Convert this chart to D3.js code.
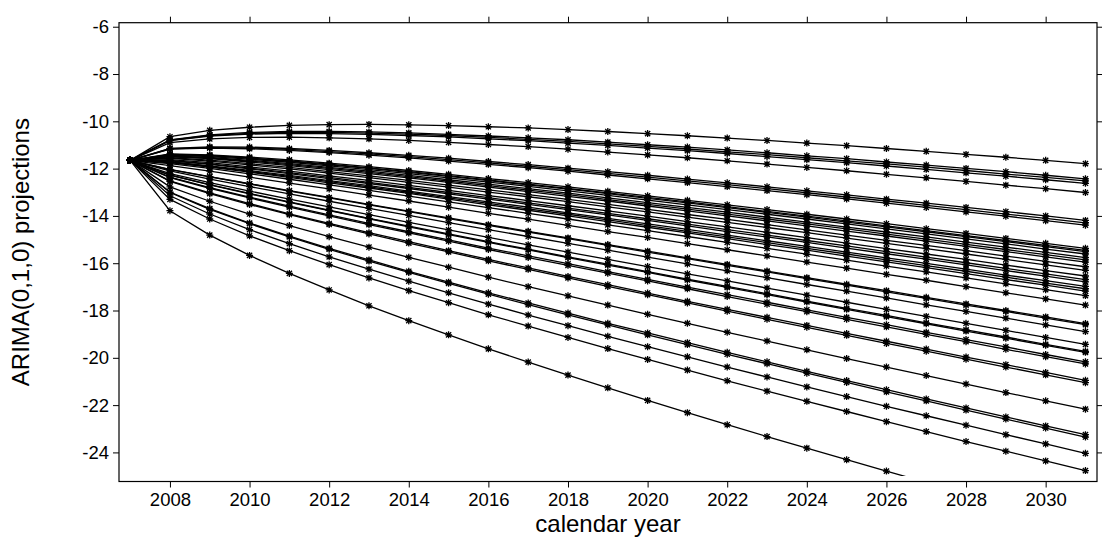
<!DOCTYPE html>
<html><head><meta charset="utf-8">
<script src="https://cdn.jsdelivr.net/npm/d3@7"></script>
<style>
body{margin:0;background:#fff}
svg text{font-family:"Liberation Sans",Arial,sans-serif;fill:#000}
</style>
</head><body><svg id="chart" width="1102" height="539"></svg>
<script>
const years = [2007,2008,2009,2010,2011,2012,2013,2014,2015,2016,2017,2018,2019,2020,2021,2022,2023,2024,2025,2026,2027,2028,2029,2030,2031];
const xTicks = [2008,2010,2012,2014,2016,2018,2020,2022,2024,2026,2028,2030];
const yTicks = [-6,-8,-10,-12,-14,-16,-18,-20,-22,-24];
const xLabel = "calendar year";
const yLabel = "ARIMA(0,1,0) projections";

const p01 = [-11.65,-10.65,-10.38,-10.25,-10.17,-10.14,-10.13,-10.15,-10.18,-10.23,-10.28,-10.35,-10.43,-10.52,-10.61,-10.71,-10.81,-10.92,-11.03,-11.15,-11.27,-11.40,-11.52,-11.65,-11.79];
const p02 = [-11.65,-10.78,-10.57,-10.47,-10.43,-10.43,-10.45,-10.49,-10.55,-10.62,-10.70,-10.78,-10.88,-10.99,-11.09,-11.21,-11.33,-11.46,-11.58,-11.72,-11.85,-11.99,-12.13,-12.28,-12.43];
const p03 = [-11.65,-10.80,-10.60,-10.51,-10.47,-10.47,-10.50,-10.54,-10.60,-10.68,-10.76,-10.85,-10.95,-11.06,-11.17,-11.29,-11.41,-11.54,-11.67,-11.80,-11.94,-12.08,-12.23,-12.37,-12.52];
const p04 = [-11.65,-10.82,-10.62,-10.54,-10.51,-10.52,-10.55,-10.60,-10.66,-10.74,-10.82,-10.92,-11.02,-11.13,-11.24,-11.36,-11.49,-11.62,-11.75,-11.89,-12.03,-12.18,-12.32,-12.47,-12.62];
const p05 = [-11.65,-10.90,-10.74,-10.68,-10.67,-10.70,-10.74,-10.81,-10.89,-10.98,-11.07,-11.18,-11.30,-11.42,-11.54,-11.67,-11.81,-11.95,-12.09,-12.24,-12.39,-12.54,-12.70,-12.85,-13.01];
const p06 = [-11.65,-11.14,-11.08,-11.09,-11.15,-11.23,-11.33,-11.44,-11.56,-11.70,-11.83,-11.98,-12.13,-12.28,-12.44,-12.60,-12.77,-12.94,-13.11,-13.29,-13.46,-13.64,-13.82,-14.00,-14.19];
const p07 = [-11.65,-11.16,-11.11,-11.13,-11.19,-11.28,-11.38,-11.49,-11.62,-11.76,-11.90,-12.04,-12.20,-12.36,-12.52,-12.68,-12.85,-13.02,-13.20,-13.37,-13.55,-13.73,-13.92,-14.10,-14.29];
const p08 = [-11.65,-11.18,-11.13,-11.16,-11.23,-11.32,-11.43,-11.55,-11.68,-11.82,-11.96,-12.11,-12.27,-12.43,-12.59,-12.76,-12.93,-13.10,-13.28,-13.46,-13.64,-13.83,-14.01,-14.20,-14.39];
const p09 = [-11.65,-11.38,-11.42,-11.51,-11.63,-11.77,-11.92,-12.08,-12.24,-12.42,-12.59,-12.77,-12.96,-13.15,-13.34,-13.53,-13.73,-13.93,-14.13,-14.33,-14.54,-14.74,-14.95,-15.16,-15.37];
const p10 = [-11.65,-11.40,-11.44,-11.55,-11.67,-11.81,-11.97,-12.13,-12.30,-12.48,-12.66,-12.84,-13.03,-13.22,-13.41,-13.61,-13.81,-14.01,-14.21,-14.42,-14.62,-14.83,-15.04,-15.25,-15.46];
const p11 = [-11.65,-11.41,-11.46,-11.56,-11.69,-11.84,-11.99,-12.16,-12.33,-12.51,-12.69,-12.87,-13.06,-13.26,-13.45,-13.65,-13.85,-14.05,-14.26,-14.46,-14.67,-14.88,-15.09,-15.30,-15.51];
const p12 = [-11.65,-11.43,-11.49,-11.60,-11.73,-11.88,-12.04,-12.21,-12.39,-12.57,-12.75,-12.94,-13.13,-13.33,-13.53,-13.73,-13.93,-14.13,-14.34,-14.55,-14.76,-14.97,-15.18,-15.40,-15.61];
const p13 = [-11.65,-11.46,-11.53,-11.65,-11.79,-11.95,-12.11,-12.29,-12.47,-12.66,-12.85,-13.04,-13.24,-13.44,-13.64,-13.84,-14.05,-14.26,-14.47,-14.68,-14.89,-15.11,-15.32,-15.54,-15.76];
const p14 = [-11.65,-11.48,-11.56,-11.68,-11.83,-11.99,-12.16,-12.34,-12.53,-12.72,-12.91,-13.10,-13.31,-13.51,-13.71,-13.92,-14.13,-14.34,-14.55,-14.77,-14.98,-15.20,-15.42,-15.64,-15.86];
const p15 = [-11.65,-11.50,-11.58,-11.72,-11.87,-12.04,-12.21,-12.39,-12.58,-12.78,-12.97,-13.17,-13.37,-13.58,-13.79,-14.00,-14.21,-14.42,-14.64,-14.85,-15.07,-15.29,-15.51,-15.73,-15.95];
const p16 = [-11.65,-11.54,-11.64,-11.79,-11.95,-12.13,-12.31,-12.50,-12.70,-12.90,-13.10,-13.30,-13.51,-13.72,-13.94,-14.15,-14.37,-14.59,-14.81,-15.03,-15.25,-15.47,-15.70,-15.92,-16.15];
const p17 = [-11.65,-11.57,-11.68,-11.84,-12.01,-12.19,-12.38,-12.58,-12.78,-12.99,-13.19,-13.40,-13.62,-13.83,-14.05,-14.27,-14.49,-14.71,-14.94,-15.16,-15.38,-15.61,-15.84,-16.07,-16.30];
const p18 = [-11.65,-11.62,-11.75,-11.93,-12.11,-12.31,-12.50,-12.71,-12.92,-13.14,-13.35,-13.57,-13.79,-14.01,-14.24,-14.46,-14.69,-14.92,-15.15,-15.38,-15.61,-15.84,-16.08,-16.31,-16.54];
const p19 = [-11.65,-11.65,-11.80,-11.98,-12.17,-12.37,-12.58,-12.79,-13.01,-13.23,-13.45,-13.67,-13.89,-14.12,-14.35,-14.58,-14.81,-15.04,-15.27,-15.51,-15.74,-15.98,-16.22,-16.45,-16.69];
const p20 = [-11.65,-11.67,-11.82,-12.01,-12.21,-12.42,-12.63,-12.84,-13.07,-13.29,-13.51,-13.73,-13.96,-14.19,-14.42,-14.66,-14.89,-15.12,-15.36,-15.60,-15.83,-16.07,-16.31,-16.55,-16.79];
const p21 = [-11.65,-11.71,-11.88,-12.08,-12.29,-12.51,-12.72,-12.95,-13.18,-13.41,-13.63,-13.87,-14.10,-14.34,-14.57,-14.81,-15.05,-15.29,-15.53,-15.77,-16.01,-16.25,-16.50,-16.74,-16.98];
const p22 = [-11.65,-11.73,-11.91,-12.12,-12.33,-12.55,-12.77,-13.00,-13.24,-13.47,-13.70,-13.93,-14.17,-14.41,-14.65,-14.89,-15.13,-15.37,-15.61,-15.86,-16.10,-16.34,-16.59,-16.84,-17.08];
const p23 = [-11.65,-11.75,-11.94,-12.15,-12.37,-12.60,-12.82,-13.05,-13.29,-13.53,-13.76,-14.00,-14.24,-14.48,-14.72,-14.96,-15.21,-15.45,-15.70,-15.94,-16.19,-16.44,-16.69,-16.93,-17.18];
const p24 = [-11.65,-11.79,-11.99,-12.22,-12.45,-12.69,-12.92,-13.16,-13.41,-13.65,-13.89,-14.13,-14.38,-14.62,-14.87,-15.12,-15.37,-15.62,-15.87,-16.12,-16.37,-16.62,-16.87,-17.12,-17.37];
const p25 = [-11.65,-11.87,-12.11,-12.36,-12.61,-12.86,-13.12,-13.37,-13.63,-13.89,-14.14,-14.40,-14.66,-14.91,-15.17,-15.43,-15.69,-15.95,-16.21,-16.47,-16.72,-16.99,-17.25,-17.51,-17.77];
const p26 = [-11.65,-12.03,-12.34,-12.64,-12.93,-13.22,-13.51,-13.80,-14.08,-14.37,-14.65,-14.93,-15.21,-15.49,-15.77,-16.05,-16.33,-16.61,-16.89,-17.16,-17.44,-17.72,-18.00,-18.27,-18.55];
const p27 = [-11.65,-12.04,-12.35,-12.65,-12.95,-13.24,-13.53,-13.82,-14.11,-14.40,-14.68,-14.96,-15.25,-15.53,-15.81,-16.09,-16.37,-16.65,-16.93,-17.21,-17.49,-17.77,-18.04,-18.32,-18.60];
const p28 = [-11.65,-12.10,-12.44,-12.76,-13.07,-13.38,-13.68,-13.98,-14.28,-14.58,-14.87,-15.16,-15.45,-15.74,-16.03,-16.32,-16.61,-16.90,-17.18,-17.47,-17.76,-18.04,-18.32,-18.61,-18.89];
const p29 = [-11.65,-12.21,-12.59,-12.95,-13.29,-13.62,-13.95,-14.27,-14.59,-14.91,-15.22,-15.53,-15.84,-16.14,-16.45,-16.75,-17.05,-17.35,-17.65,-17.95,-18.25,-18.54,-18.84,-19.14,-19.43];
const p30 = [-11.65,-12.27,-12.68,-13.05,-13.41,-13.76,-14.10,-14.43,-14.76,-15.09,-15.41,-15.73,-16.04,-16.36,-16.67,-16.98,-17.29,-17.60,-17.91,-18.21,-18.52,-18.82,-19.12,-19.43,-19.73];
const p31 = [-11.65,-12.28,-12.69,-13.07,-13.43,-13.78,-14.12,-14.46,-14.79,-15.12,-15.44,-15.76,-16.08,-16.39,-16.71,-17.02,-17.33,-17.64,-17.95,-18.26,-18.56,-18.87,-19.17,-19.47,-19.77];
const p32 = [-11.65,-12.36,-12.80,-13.21,-13.59,-13.96,-14.32,-14.67,-15.01,-15.36,-15.69,-16.02,-16.36,-16.68,-17.01,-17.33,-17.65,-17.97,-18.29,-18.60,-18.92,-19.23,-19.54,-19.86,-20.17];
const p33 = [-11.65,-12.38,-12.83,-13.24,-13.63,-14.00,-14.37,-14.72,-15.07,-15.42,-15.76,-16.09,-16.42,-16.75,-17.08,-17.41,-17.73,-18.05,-18.37,-18.69,-19.01,-19.32,-19.64,-19.95,-20.26];
const p34 = [-11.65,-12.52,-13.03,-13.48,-13.91,-14.32,-14.71,-15.09,-15.47,-15.84,-16.20,-16.56,-16.91,-17.26,-17.61,-17.95,-18.29,-18.63,-18.97,-19.30,-19.63,-19.97,-20.29,-20.62,-20.95];
const p35 = [-11.65,-12.54,-13.06,-13.52,-13.95,-14.36,-14.76,-15.15,-15.52,-15.90,-16.26,-16.62,-16.98,-17.33,-17.68,-18.03,-18.37,-18.71,-19.05,-19.39,-19.72,-20.06,-20.39,-20.72,-21.05];
const p36 = [-11.65,-12.77,-13.38,-13.92,-14.41,-14.88,-15.32,-15.75,-16.17,-16.59,-16.99,-17.38,-17.77,-18.16,-18.54,-18.92,-19.29,-19.66,-20.03,-20.39,-20.75,-21.11,-21.47,-21.82,-22.17];
const p37 = [-11.65,-12.99,-13.69,-14.30,-14.85,-15.37,-15.86,-16.34,-16.80,-17.25,-17.68,-18.11,-18.54,-18.95,-19.36,-19.77,-20.17,-20.57,-20.96,-21.35,-21.74,-22.12,-22.50,-22.88,-23.25];
const p38 = [-11.65,-13.01,-13.72,-14.33,-14.89,-15.41,-15.91,-16.39,-16.85,-17.31,-17.75,-18.18,-18.61,-19.03,-19.44,-19.85,-20.25,-20.65,-21.04,-21.44,-21.82,-22.21,-22.59,-22.97,-23.35];
const p39 = [-11.65,-13.15,-13.92,-14.58,-15.17,-15.73,-16.25,-16.76,-17.25,-17.73,-18.19,-18.64,-19.09,-19.53,-19.96,-20.39,-20.81,-21.23,-21.64,-22.05,-22.45,-22.85,-23.25,-23.64,-24.04];
const p40 = [-11.65,-13.30,-14.13,-14.84,-15.47,-16.06,-16.62,-17.16,-17.67,-18.18,-18.66,-19.14,-19.61,-20.07,-20.52,-20.97,-21.41,-21.84,-22.27,-22.70,-23.12,-23.54,-23.95,-24.36,-24.77];
const p41 = [-11.65,-13.78,-14.81,-15.67,-16.43,-17.13,-17.80,-18.43,-19.03,-19.62,-20.18,-20.73,-21.27,-21.80,-22.32,-22.83,-23.33,-23.82,-24.31,-24.79,-25.27,-25.74,-26.20,-26.67,-27.12];

const seriesList = [p01,p02,p03,p04,p05,p06,p07,p08,p09,p10,p11,p12,p13,p14,p15,p16,p17,p18,p19,p20,
  p21,p22,p23,p24,p25,p26,p27,p28,p29,p30,p31,p32,p33,p34,p35,p36,p37,p38,p39,p40,p41];

const svg = d3.select("#chart");
const L = 119, R = 1097, T = 22.7, B = 481.5;
const x = d3.scaleLinear().domain([2006.72, 2031.29]).range([L, R]);
const y = d3.scaleLinear().domain([-25.23, -5.83]).range([B, T]);

svg.append("rect").attr("width",1102).attr("height",539).attr("fill","#fff");

svg.append("defs").append("clipPath").attr("id","plotclip")
  .append("rect").attr("x", L).attr("y", T).attr("width", R - L).attr("height", y(-25.0) - T);

const tickLen = 6;
const fontPx = "18.5px";
function styleAxis(g, showText){
  g.select(".domain").remove();
  g.selectAll(".tick line").attr("stroke","#000").attr("stroke-width",1);
  g.selectAll(".tick text").attr("font-size",fontPx).attr("font-family",'"Liberation Sans",Arial,sans-serif').attr("fill","#000");
  if(!showText) g.selectAll(".tick text").remove();
}
svg.append("g").attr("transform",`translate(0,${B})`)
  .call(d3.axisBottom(x).tickValues(xTicks).tickSize(tickLen).tickPadding(5).tickFormat(d3.format("d")))
  .call(g=>styleAxis(g,true));
svg.append("g").attr("transform",`translate(0,${T})`)
  .call(d3.axisTop(x).tickValues(xTicks).tickSize(tickLen))
  .call(g=>styleAxis(g,false));
svg.append("g").attr("transform",`translate(${L},0)`)
  .call(d3.axisLeft(y).tickValues(yTicks).tickSize(tickLen).tickPadding(4).tickFormat(d=>String(d)))
  .call(g=>styleAxis(g,true));
svg.append("g").attr("transform",`translate(${R},0)`)
  .call(d3.axisRight(y).tickValues(yTicks).tickSize(tickLen))
  .call(g=>styleAxis(g,false));

const plot = svg.append("g").attr("clip-path","url(#plotclip)");
const line = d3.line().x((d,i)=>x(years[i])).y(d=>y(d));
const asterisk = {
  draw(ctx){
    const r = 3.5, d = 2.6;
    ctx.moveTo(-r,0); ctx.lineTo(r,0);
    ctx.moveTo(0,-r); ctx.lineTo(0,r);
    ctx.moveTo(-d,-d); ctx.lineTo(d,d);
    ctx.moveTo(-d,d); ctx.lineTo(d,-d);
  }
};
const sym = d3.symbol().type(asterisk);

seriesList.forEach(s=>{
  plot.append("path").datum(s).attr("d", line)
    .attr("fill","none").attr("stroke","#000").attr("stroke-width",1.3);
  plot.selectAll(null).data(s).enter().append("path")
    .attr("d", sym)
    .attr("transform",(d,i)=>`translate(${x(years[i])},${y(d)})`)
    .attr("fill","none").attr("stroke","#000").attr("stroke-width",1.3);
});

svg.append("rect").attr("x",L).attr("y",T).attr("width",R-L).attr("height",B-T)
  .attr("fill","none").attr("stroke","#000").attr("stroke-width",1.2);

svg.append("text").attr("x",(L+R)/2).attr("y",531.5).attr("text-anchor","middle")
  .attr("font-size","24px").text(xLabel);
svg.append("text").attr("transform",`translate(29,${(T+B)/2}) rotate(-90)`)
  .attr("text-anchor","middle").attr("font-size","24px").text(yLabel);
</script>
</body></html>
